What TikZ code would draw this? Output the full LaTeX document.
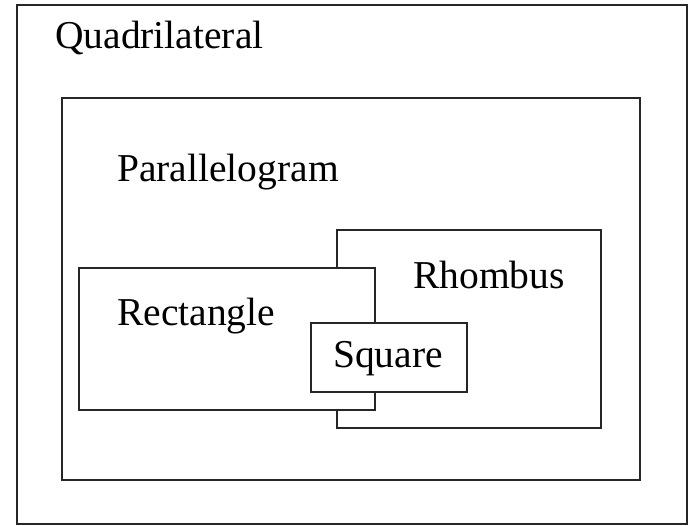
\documentclass[tikz,border=0pt]{standalone}
\usepackage{fontspec}
\setmainfont{Liberation Serif}
\begin{document}
\begin{tikzpicture}[x=1bp,y=-1bp,
  box/.style={draw=black!85,line width=1.8bp,fill=white},
  lbl/.style={anchor=base west,inner sep=0pt,font=\fontsize{39.5bp}{45bp}\selectfont}]
\useasboundingbox (0,0) rectangle (694,526);
\draw[box] (17,5) rectangle (687,524);
\node[lbl] (tq) at (55,49) {Quadrilateral};
\draw[box] (62,98) rectangle (640,480);
\node[lbl] (tp) at (117,182) {Parallelogram};
\draw[box] (337,230) rectangle (601,428);
\node[lbl] (th) at (413,288) {Rhombus};
\draw[box] (79,268) rectangle (375,410);
\node[lbl] (tr) at (117,325) {Rectangle};
\draw[box] (311,323) rectangle (467,392);
\node[lbl] (ts) at (333,367) {Square};
\end{tikzpicture}
\end{document}
